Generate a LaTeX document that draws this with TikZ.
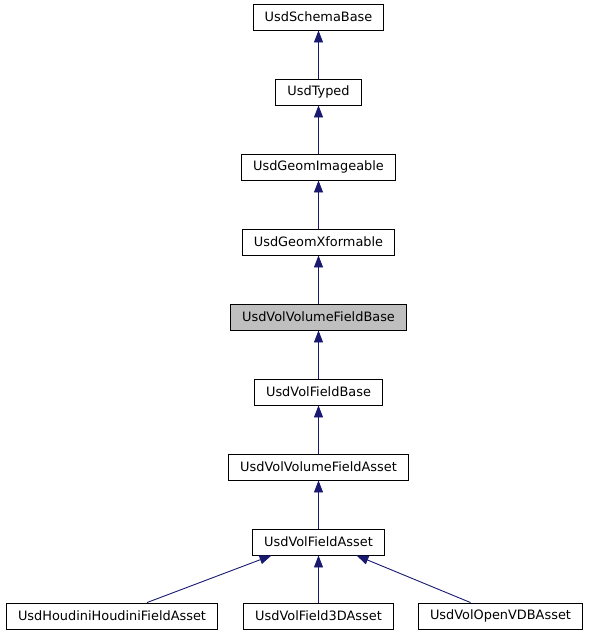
\documentclass[tikz,border=0pt]{standalone}
\usepackage{fontspec}
\setmainfont{DejaVu Sans}
\usetikzlibrary{arrows.meta}
\definecolor{edgeblue}{HTML}{191970}
\definecolor{basegray}{HTML}{BFBFBF}

\begin{document}
\begin{tikzpicture}[x=1pt, y=-1pt,
  cls/.style={draw=black, line width=0.9pt, minimum height=26pt, inner xsep=11.5pt, inner ysep=0pt, font=\fontsize{12.9}{15}\selectfont},
  inh/.style={draw=edgeblue, line width=0.9pt, -{Triangle[length=12pt, width=9pt]}}]
\useasboundingbox (0,0) rectangle (589,635);

 \node[cls] (schema) at (318.5,17) {UsdSchemaBase};
 \node[cls] (typed) at (318.5,92) {UsdTyped};
 \node[cls] (imageable) at (318.5,167) {UsdGeomImageable};
 \node[cls] (xformable) at (318.5,242) {UsdGeomXformable};
 \node[cls, fill=basegray] (volbase) at (318.5,317) {UsdVolVolumeFieldBase};
 \node[cls] (fieldbase) at (318.5,392) {UsdVolFieldBase};
 \node[cls] (volasset) at (318.5,467) {UsdVolVolumeFieldAsset};
 \node[cls] (fieldasset) at (318.5,542) {UsdVolFieldAsset};

 \node[cls] (houdini) at (112,616) {UsdHoudiniHoudiniFieldAsset};
 \node[cls] (field3d) at (318.5,616) {UsdVolField3DAsset};
 \node[cls] (openvdb) at (500.5,616) {UsdVolOpenVDBAsset};

 \draw[inh] (typed) -- (schema);
 \draw[inh] (imageable) -- (typed);
 \draw[inh] (xformable) -- (imageable);
 \draw[inh] (volbase) -- (xformable);
 \draw[inh] (fieldbase) -- (volbase);
 \draw[inh] (volasset) -- (fieldbase);
 \draw[inh] (fieldasset) -- (volasset);

 \draw[inh] ([xshift=35pt]houdini.north) -- ([xshift=-47pt]fieldasset.south);
 \draw[inh] (field3d) -- (fieldasset);
 \draw[inh] ([xshift=-30pt]openvdb.north) -- ([xshift=38pt]fieldasset.south);

\end{tikzpicture}
\end{document}
